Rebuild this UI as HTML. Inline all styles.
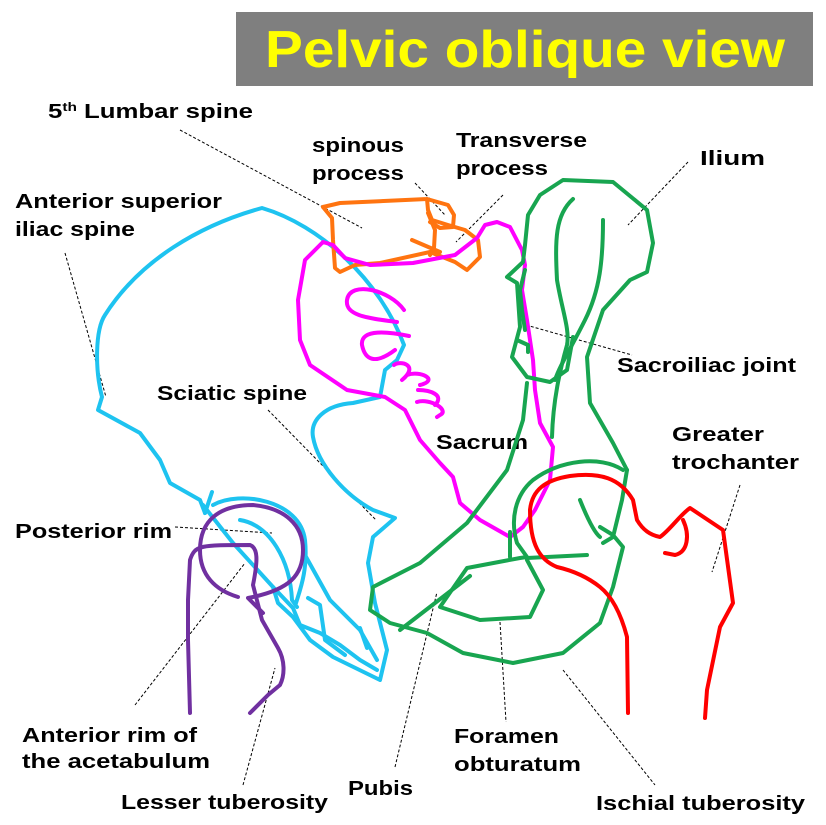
<!DOCTYPE html>
<html><head><meta charset="utf-8"><style>
html,body{margin:0;padding:0;background:#fff;}
svg{display:block;}
text{font-family:"Liberation Sans",sans-serif;font-weight:bold;fill:#000;}
</style></head><body>
<svg width="826" height="825" viewBox="0 0 826 825" xmlns="http://www.w3.org/2000/svg">
<rect x="236" y="12" width="577" height="74" fill="#7f7f7f"/>
<text x="265" y="67" font-size="52" textLength="520" lengthAdjust="spacingAndGlyphs" style="fill:#ffff00">Pelvic oblique view</text>

<g font-size="20">
<text x="48" y="118" textLength="205" lengthAdjust="spacingAndGlyphs">5<tspan font-size="12" dy="-7">th</tspan><tspan dy="7"> Lumbar spine</tspan></text>
<text x="312" y="152" textLength="92" lengthAdjust="spacingAndGlyphs">spinous</text>
<text x="312" y="180" textLength="92" lengthAdjust="spacingAndGlyphs">process</text>
<text x="456" y="147" textLength="131" lengthAdjust="spacingAndGlyphs">Transverse</text>
<text x="456" y="175" textLength="92" lengthAdjust="spacingAndGlyphs">process</text>
<text x="700" y="165" textLength="65" lengthAdjust="spacingAndGlyphs">Ilium</text>
<text x="15" y="208" textLength="207" lengthAdjust="spacingAndGlyphs">Anterior superior</text>
<text x="15" y="236" textLength="120" lengthAdjust="spacingAndGlyphs">iliac spine</text>
<text x="157" y="400" textLength="150" lengthAdjust="spacingAndGlyphs">Sciatic spine</text>
<text x="617" y="372" textLength="179" lengthAdjust="spacingAndGlyphs">Sacroiliac joint</text>
<text x="436" y="449" textLength="92" lengthAdjust="spacingAndGlyphs">Sacrum</text>
<text x="672" y="441" textLength="92" lengthAdjust="spacingAndGlyphs">Greater</text>
<text x="672" y="469" textLength="127" lengthAdjust="spacingAndGlyphs">trochanter</text>
<text x="15" y="538" textLength="157" lengthAdjust="spacingAndGlyphs">Posterior rim</text>
<text x="22" y="742" textLength="175" lengthAdjust="spacingAndGlyphs">Anterior rim of</text>
<text x="22" y="768" textLength="188" lengthAdjust="spacingAndGlyphs">the acetabulum</text>
<text x="121" y="809" textLength="207" lengthAdjust="spacingAndGlyphs">Lesser tuberosity</text>
<text x="348" y="795" textLength="65" lengthAdjust="spacingAndGlyphs">Pubis</text>
<text x="454" y="743" textLength="105" lengthAdjust="spacingAndGlyphs">Foramen</text>
<text x="454" y="771" textLength="127" lengthAdjust="spacingAndGlyphs">obturatum</text>
<text x="596" y="810" textLength="209" lengthAdjust="spacingAndGlyphs">Ischial tuberosity</text>
</g>

<g stroke="#000" stroke-width="1" stroke-dasharray="3,2" fill="none">
<line x1="180" y1="130" x2="362" y2="228"/>
<line x1="415" y1="183" x2="445" y2="215"/>
<line x1="503" y1="195" x2="456" y2="242"/>
<line x1="688" y1="162" x2="628" y2="225"/>
<line x1="65" y1="253" x2="106" y2="397"/>
<line x1="268" y1="410" x2="376" y2="520"/>
<line x1="175" y1="527" x2="272" y2="533"/>
<line x1="526" y1="325" x2="632" y2="355"/>
<line x1="740" y1="485" x2="712" y2="572"/>
<line x1="135" y1="705" x2="245" y2="563"/>
<line x1="243" y1="785" x2="275" y2="668"/>
<line x1="395" y1="767" x2="437" y2="592"/>
<line x1="500" y1="622" x2="506" y2="722"/>
<line x1="563" y1="670" x2="655" y2="785"/>
</g>

<g fill="none" stroke-width="4" stroke-linecap="round" stroke-linejoin="round">
<path stroke="#1ec3f0" d="M205,513 L200,500 L170,483 L160,460 L140,433 L98,410 L102,397 C95,370 95,330 105,315 C140,260 200,225 262,208 C320,225 380,280 404,345 L397,360 L385,370 L380,397 L353,403 C325,405 310,420 313,437 C318,465 345,495 373,510 L395,518 L373,537 L368,563 L375,603 L387,650 L380,680 L333,657 L310,640 L293,617 L278,603 L273,587"/>
<path stroke="#1ec3f0" d="M205,513 L212,492 M203,505 L233,543 L273,587 L293,608 L300,625 L320,633 L340,645 L360,660 L377,670"/>
<path stroke="#1ec3f0" d="M213,505 C240,490 300,500 305,540 C308,570 300,590 296,603"/>
<path stroke="#1ec3f0" d="M240,520 C270,525 290,560 292,600 L297,607"/>
<path stroke="#1ec3f0" d="M305,555 L330,600 L360,630 L377,660 M308,598 L320,605 L325,640 L345,655 M360,628 L367,648"/>
<path stroke="#ff7410" d="M323,207 L340,203 L427,199 L448,205 L454,215 L453,227 L440,228 L430,222 M323,207 L332,218 L333,240 L335,268 L340,272 L355,265 L380,263 L430,252 L455,262 L467,270 L480,257 L478,240 L465,230 L448,225 L432,220 L428,210 L427,199 M412,240 L440,252 M428,213 L435,230 L434,248 L430,255"/>
<path stroke="#ff00ff" d="M323,242 L305,260 L298,300 L300,340 L310,365 L347,390 L385,397 L405,410 L420,440 L440,463 L453,477 L460,503 L480,520 L510,537 L523,527 L535,510 L550,480 L553,447 L540,423 L535,390 L533,360 L527,320 L522,290 L525,265 L522,250 L510,227 L497,222 L485,225 L477,238 L455,255 L413,263 L370,265 L345,258 L333,245 Z"/>
<path stroke="#ff00ff" d="M404,310 C390,290 350,280 347,300 C345,315 365,318 397,322"/>
<path stroke="#ff00ff" d="M409,336 C390,332 360,328 362,345 C365,360 375,365 395,350"/>
<path stroke="#ff00ff" d="M394,365 C400,360 420,365 402,380 M407,375 C420,370 440,380 420,385"/>
<path stroke="#ff00ff" d="M418,390 C430,390 445,395 435,405 M417,402 C430,398 450,410 440,415 L437,417"/>
<path stroke="#18a550" d="M627,470 L613,443 L590,403 L587,357 L603,310 L630,280 L647,272 L653,243 L647,210 L613,182 L563,180 L540,195 L528,215 L525,245 L523,262 L507,277 L517,283 L520,327 L512,357 L527,377 L550,382 L567,370 L573,337"/>
<path stroke="#18a550" d="M573,199 C555,215 555,240 557,280 C562,310 570,330 567,345 C560,370 553,400 552,437"/>
<path stroke="#18a550" d="M603,220 C603,260 600,290 585,320 C570,350 560,365 555,380"/>
<path stroke="#18a550" d="M525,270 L520,290 L522,310 L525,330 M517,340 L528,345 L528,352"/>
<path stroke="#18a550" d="M527,383 L523,420 L507,470 L467,523 L420,563 L373,587 L370,610 L390,623 L427,633 L463,653 L513,663 L563,653 L600,623 L613,587 L623,547 L613,535 L600,527"/>
<path stroke="#18a550" d="M627,470 L622,500 L613,537 L603,543"/>
<path stroke="#18a550" d="M580,500 C588,520 595,533 600,537"/>
<path stroke="#18a550" d="M623,470 C600,455 560,460 533,480 C515,495 510,520 517,543 L527,557 L520,558 L467,568 L440,607 L480,620 L530,617 L543,590 L527,560"/>
<path stroke="#18a550" d="M400,630 L470,576 M527,558 L587,555 M510,532 L510,557"/>
<path stroke="#ff0000" d="M628,713 L627,637 C620,610 610,595 600,587 C585,575 570,570 557,567 C540,560 530,545 530,510 C532,490 545,480 570,476 C600,472 620,478 633,500 L637,520 C643,530 650,535 660,537 C670,530 680,515 690,508 L723,530 L733,603 L720,627 L707,690 L705,718"/>
<path stroke="#ff0000" d="M683,520 C690,535 688,552 675,555 L665,553"/>
<path stroke="#7030a0" d="M238,597 C215,590 200,575 200,550 C200,520 220,505 253,505 C285,508 303,525 303,550 C303,575 290,590 248,598 L263,613"/>
<path stroke="#7030a0" d="M190,713 L188,640 L188,600 L190,560 C195,545 200,545 250,545 C258,548 258,560 253,585 L262,620 L278,648 C285,660 285,675 280,685 L268,695 L250,713"/>
</g>
</svg>
</body></html>
